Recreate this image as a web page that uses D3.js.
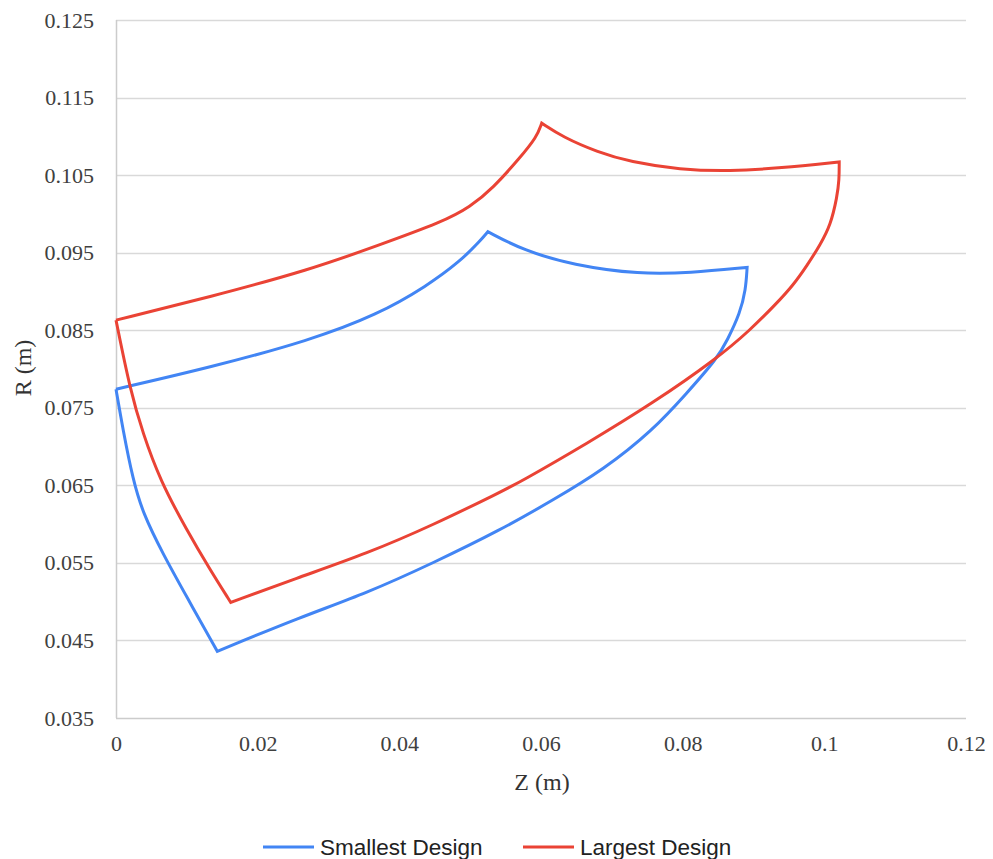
<!DOCTYPE html>
<meta charset="utf-8">
<style>
	body { margin: 0; background: #fff; }
	.tick text { font-family: "Liberation Serif", serif; font-size: 22px; fill: #404040; }
</style>
<body>
<script src="https://d3js.org/d3.v7.min.js"></script>
<script>
	// Smallest design outline (z, r) in metres
	var smallZ = [0, 0.0133, 0.0274, 0.0369, 0.0439, 0.0486, 0.0514, 0.0525,
		0.0575, 0.0645, 0.0740, 0.0810, 0.0891,
		0.0889, 0.0881, 0.0863, 0.0849, 0.0806, 0.0758, 0.0688, 0.0617, 0.0542, 0.0448, 0.0354, 0.0260, 0.0143,
		0.0100, 0.0066, 0.0038, 0.0024, 0.0010, 0];
	var smallR = [0.0774, 0.0802, 0.0837, 0.0870, 0.0907, 0.0939, 0.0965, 0.0977,
		0.0953, 0.0934, 0.0922, 0.0924, 0.0931,
		0.0902, 0.0872, 0.0837, 0.0814, 0.0769, 0.0721, 0.0670, 0.0631, 0.0592, 0.0550, 0.0511, 0.0480, 0.0436,
		0.0506, 0.0562, 0.0614, 0.0657, 0.0721, 0.0774];
	var smallCorners = [0, 7, 12, 25, 31];

	// Largest design outline
	var largeZ = [0, 0.0133, 0.0274, 0.0369, 0.0462, 0.0500, 0.0532, 0.0570, 0.0594, 0.0601,
		0.0631, 0.0679, 0.0726, 0.0796, 0.0867, 0.0938, 0.1021,
		0.1021, 0.1018, 0.1009, 0.0994, 0.0976, 0.0956, 0.0932, 0.0895, 0.0849, 0.0758, 0.0665, 0.0570, 0.0542, 0.0448, 0.0354, 0.0260, 0.0162,
		0.0133, 0.0100, 0.0062, 0.0038, 0.0020, 0];
	var largeR = [0.0863, 0.0893, 0.0928, 0.0959, 0.0990, 0.1009, 0.1033, 0.1072, 0.1099, 0.1117,
		0.1099, 0.1080, 0.1067, 0.1057, 0.1055, 0.1059, 0.1067,
		0.1044, 0.1022, 0.0986, 0.0960, 0.0934, 0.0908, 0.0884, 0.0850, 0.0814, 0.0756, 0.0704, 0.0654, 0.0641, 0.0599, 0.0562, 0.0532, 0.0499,
		0.0541, 0.0592, 0.0657, 0.0717, 0.0773, 0.0863];
	var largeCorners = [0, 9, 16, 33, 39];

	var seriesNames = ["Smallest Design", "Largest Design"];
	var seriesColors = ["#4285f4", "#ea4335"];
	var xTicks = [0, 0.02, 0.04, 0.06, 0.08, 0.1, 0.12];
	var yTicks = [0.035, 0.045, 0.055, 0.065, 0.075, 0.085, 0.095, 0.105, 0.115, 0.125];

	var width = 993, height = 859;
	var plotLeft = 116, plotRight = 966, plotTop = 20, plotBottom = 718;

	var svg = d3.select("body").append("svg")
		.attr("width", width)
		.attr("height", height);

	var x = d3.scaleLinear().domain([0, 0.12]).range([plotLeft, plotRight]);
	var y = d3.scaleLinear().domain([0.035, 0.125]).range([plotBottom, plotTop]);

	// gridlines
	svg.append("g")
		.selectAll("line")
		.data(yTicks.slice(1))
		.enter()
		.append("line")
		.attr("x1", plotLeft)
		.attr("x2", plotRight)
		.attr("y1", function(d) { return Math.round(y(d)) + 0.5; })
		.attr("y2", function(d) { return Math.round(y(d)) + 0.5; })
		.attr("stroke", "#d9d9d9")
		.attr("stroke-width", 1.5);

	// axes
	var yAxis = svg.append("g")
		.attr("transform", "translate(" + plotLeft + ",0)")
		.call(d3.axisLeft(y).tickValues(yTicks).tickSize(0).tickPadding(22).tickFormat(d3.format(".3f")));
	yAxis.select(".domain").remove();

	var xAxis = svg.append("g")
		.attr("transform", "translate(0," + plotBottom + ")")
		.call(d3.axisBottom(x).tickValues(xTicks).tickSize(0).tickPadding(17).tickFormat(function(d) { return String(+d.toFixed(2)); }));
	xAxis.select(".domain").remove();

	svg.append("line")
		.attr("x1", plotLeft + 0.5).attr("x2", plotLeft + 0.5)
		.attr("y1", plotTop).attr("y2", plotBottom)
		.attr("stroke", "#cccccc").attr("stroke-width", 1.5);
	svg.append("line")
		.attr("x1", plotLeft).attr("x2", plotRight)
		.attr("y1", plotBottom + 0.5).attr("y2", plotBottom + 0.5)
		.attr("stroke", "#cccccc").attr("stroke-width", 1.5);

	// axis titles
	svg.append("text")
		.text("Z (m)")
		.attr("x", 542)
		.attr("y", 790)
		.attr("text-anchor", "middle")
		.attr("font-family", "Liberation Serif, serif")
		.attr("font-size", "24px")
		.attr("fill", "#333");
	svg.append("text")
		.text("R (m)")
		.attr("transform", "translate(31,368) rotate(-90)")
		.attr("text-anchor", "middle")
		.attr("font-family", "Liberation Serif, serif")
		.attr("font-size", "24px")
		.attr("fill", "#333");

	// outlines: smooth edges joined at sharp corners
	var line = d3.line()
		.x(function(d) { return x(d[0]); })
		.y(function(d) { return y(d[1]); })
		.curve(d3.curveBasis);

	function outlinePath(zs, rs, corners) {
		var pts = d3.zip(zs, rs);
		var d = "";
		for (var i = 0; i < corners.length - 1; i++) {
			var part = line(pts.slice(corners[i], corners[i + 1] + 1));
			d += (i == 0) ? part : "L" + part.slice(1);
		}
		return d;
	}

	var outlines = [outlinePath(smallZ, smallR, smallCorners), outlinePath(largeZ, largeR, largeCorners)];

	svg.selectAll("path.outline")
		.data(outlines)
		.enter()
		.append("path")
		.attr("class", "outline")
		.attr("d", function(d) { return d; })
		.attr("fill", "none")
		.attr("stroke", function(d, i) { return seriesColors[i]; })
		.attr("stroke-width", 3)
		.attr("stroke-linejoin", "miter");

	// legend
	var legendX = [263, 523];
	var legend = svg.selectAll("g.legend")
		.data(seriesNames)
		.enter()
		.append("g")
		.attr("class", "legend")
		.attr("transform", function(d, i) { return "translate(" + legendX[i] + ",847)"; });
	legend.append("line")
		.attr("x1", 0).attr("x2", 51)
		.attr("y1", 0).attr("y2", 0)
		.attr("stroke", function(d, i) { return seriesColors[i]; })
		.attr("stroke-width", 3);
	legend.append("text")
		.text(function(d) { return d; })
		.attr("x", 57)
		.attr("y", 8)
		.attr("font-family", "Liberation Sans, Arial, sans-serif")
		.attr("font-size", "22.5px")
		.attr("fill", "#222");
</script>
</body>
